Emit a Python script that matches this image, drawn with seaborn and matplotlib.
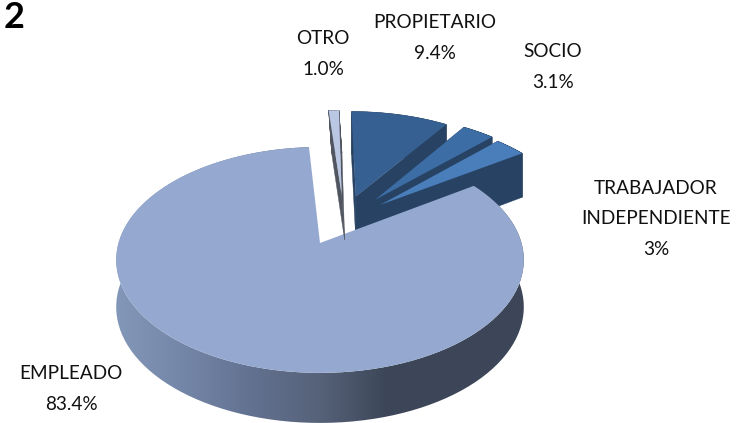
import numpy as np
import matplotlib
matplotlib.use("Agg")
import matplotlib.pyplot as plt
from matplotlib.patches import PathPatch, Polygon
from matplotlib.path import Path
import seaborn as sns

# clockwise from 12 o'clock
categories = ["PROPIETARIO", "SOCIO", "TRABAJADOR\nINDEPENDIENTE", "EMPLEADO", "OTRO"]
values = [9.4, 3.1, 3.0, 83.4, 1.0]
value_labels = ["9.4%", "3.1%", "3%", "83.4%", "1.0%"]

# explosion of each slice on the disc, same order
offsets = [(0.19, 0.45), (0.29, 0.415), (0.315, 0.364), (0.0, 0.0), (0.115, 0.467)]
top_colors = ["#376092", "#3c6da5", "#4a7ebb", "#95a9d0", "#b9c7e2"]
side_colors = ["#274263", "#274263", "#274263", "#3c4658", "#50555f"]
side_lean = [0, 0, 0, 0, 3]
label_xy = [(435, 38), (553, 67), (656, 219), (71, 389), (323, 54)]

CX, CY = 320, 243
RX, RY = 201.5, 110.4
TILT = 0.15
DEPTH = 46.6


def project(u, v):
    w = 1 + TILT * v
    x = CX + RX * u / w
    y = CY - RY * v / w
    return x, y, y + DEPTH / w ** 0.44


def slice_points(start, end, off):
    t = np.radians(np.linspace(start, end, 120))
    u = np.concatenate([[off[0]], off[0] + np.sin(t)])
    v = np.concatenate([[off[1]], off[1] + np.cos(t)])
    return project(u, v)


sns.set_theme(style="white")
plt.rcParams["font.family"] = ["Lato", "DejaVu Sans"]

fig = plt.figure(figsize=(7.44, 4.23), dpi=100)
ax = fig.add_axes([0, 0, 1, 1])

edges = np.concatenate([[0], np.cumsum(values)]) / sum(values) * 360
side_cmap = sns.blend_palette(["#8397b9", "#7486a8", "#627190", "#566279", "#3c4658", "#3c4658", "#3c4658"],
                              as_cmap=True)

# back slices first, the big one goes on top of them
for i in [4, 0, 1, 2, 3]:
    x, y, y_low = slice_points(edges[i], edges[i + 1], offsets[i])
    if i == 3:
        # rim of the main slice with the left to right shading
        rim = np.vstack([np.column_stack([x[1:], y[1:]]),
                         np.column_stack([x[1:], y_low[1:]])[::-1]])
        im = ax.imshow(np.linspace(0, 1, 256)[None, :], cmap=side_cmap, aspect="auto",
                       extent=(x.min(), x.max(), y_low.max(), y.min()), zorder=i + 1)
        im.set_clip_path(PathPatch(Path(rim), transform=ax.transData))
    else:
        n = len(x)
        x_low = x + side_lean[i]
        for a in range(n):
            b = (a + 1) % n
            quad = [(x[a], y[a]), (x[b], y[b]), (x_low[b], y_low[b]), (x_low[a], y_low[a])]
            ax.add_patch(Polygon(quad, closed=True, fc=side_colors[i], ec=side_colors[i], lw=0.3, zorder=i + 1))
    ax.add_patch(Polygon(np.column_stack([x, y]), closed=True, fc=top_colors[i], ec="none", zorder=i + 1.5))

for cat, pct, (lx, ly) in zip(categories, value_labels, label_xy):
    ax.text(lx, ly, cat + "\n" + pct, ha="center", va="center", fontsize=13.7,
            color="#111111", linespacing=1.95)

ax.text(4, 18, "2", fontsize=26, fontweight="bold", color="black", ha="left", va="center")

ax.set_xlim(0, 744)
ax.set_ylim(423, 0)
ax.axis("off")

fig.savefig("out.png", dpi=100)
